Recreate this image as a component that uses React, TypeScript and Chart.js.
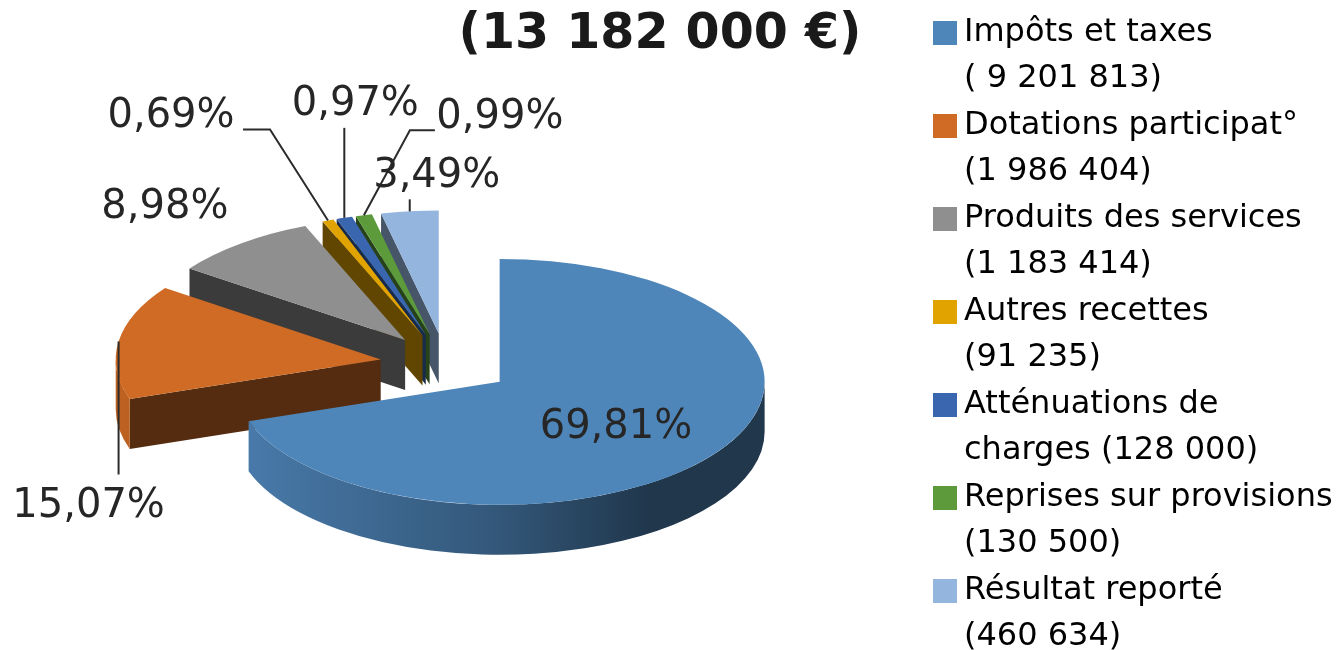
import React, { useEffect, useRef } from "react";
import { Chart, registerables } from "chart.js";

Chart.register(...registerables);

const categories = [
  ["Impôts et taxes", "( 9 201 813)"],
  ["Dotations participat°", "(1 986 404)"],
  ["Produits des services", "(1 183 414)"],
  ["Autres recettes", "(91 235)"],
  ["Atténuations de", "charges (128 000)"],
  ["Reprises sur provisions", "(130 500)"],
  ["Résultat reporté", "(460 634)"],
];
const amounts = [9201813, 1986404, 1183414, 91235, 128000, 130500, 460634];
const colors = ["#4F86BA", "#CF6B24", "#8F8F8F", "#E0A300", "#3A66B0", "#5C9A3C", "#94B6DE"];
const titleText = "(13 182 000 €)";

// Rendering of the tilted, exploded pie
const PIE = { cx: 446, cy: 364, radius: 265, tilt: 0.464, explode: 66, depth: 50 };
// Label placement relative to each slice's rim midpoint: label centre and leader polyline
const LABEL_LAYOUT = [
  { dx: -99, dy: -26, leader: [] },
  { dx: -30, dy: 165, leader: [[0, 133]] },
  { dx: -76, dy: -36, leader: [] },
  { dx: -157, dy: -104, leader: [[-58, -91], [-85, -91]] },
  { dx: 11, dy: -113, leader: [[0, -90]] },
  { dx: 136, dy: -98, leader: [[46, -85], [71, -85]] },
  { dx: 27, dy: -35, leader: [[0, -12]] },
];
const FACE_SHADE = [0.4, 0.41, 0.41, 0.43, 0.42, 0.42, 0.47];

function shade(hex: string, f: number) {
  const n = parseInt(hex.slice(1), 16);
  const c = [(n >> 16) & 255, (n >> 8) & 255, n & 255].map((v) => Math.round(v * f));
  return `rgb(${c[0]},${c[1]},${c[2]})`;
}

const pie3d = {
  id: "pie3d",
  afterLayout(chart: any) {
    const lg = chart.legend;
    const w = lg.right - lg.left;
    lg.left = 941;
    lg.right = 941 + w;
    lg.top = 16;
    // the swatches overhang the legend box, so it is drawn without its clip
    lg.draw = function () {
      this._draw();
    };
    chart.titleBlock.right = 1320;
  },
  beforeDatasetDraw(chart: any, args: any) {
    const ctx = chart.ctx;
    const meta = args.meta;
    const els = meta.data;
    const { radius: R, tilt: K, depth: D } = PIE;
    const total = amounts.reduce((a, b) => a + b, 0);
    const pos = els.map((el: any) => {
      const mid = (el.startAngle + el.endAngle) / 2;
      return {
        x: PIE.cx + PIE.explode * Math.cos(mid),
        y: PIE.cy + PIE.explode * K * Math.sin(mid),
        mid,
      };
    });
    // back-to-front: last slice first
    for (let i = els.length - 1; i >= 0; i--) {
      const el = els[i];
      const { x, y } = pos[i];
      const s = el.startAngle;
      const e = el.endAngle;
      const base = colors[i];
      const face = shade(base, FACE_SHADE[i]);
      const edge = (a: number) => {
        if ((a === s && Math.cos(a) < -1e-6) || (a === e && Math.cos(a) > 1e-6)) {
          const rx = x + R * Math.cos(a);
          const ry = y + R * K * Math.sin(a);
          ctx.beginPath();
          ctx.moveTo(x, y);
          ctx.lineTo(rx, ry);
          ctx.lineTo(rx, ry + D);
          ctx.lineTo(x, y + D);
          ctx.closePath();
          ctx.fillStyle = face;
          ctx.fill();
        }
      };
      edge(s);
      edge(e);
      // outer wall: only the front half of the rim
      const a0 = Math.max(s, 0);
      const a1 = Math.min(e, Math.PI);
      if (a1 > a0) {
        const g = ctx.createLinearGradient(x - R, 0, x + R, 0);
        g.addColorStop(0, shade(base, 0.92));
        g.addColorStop(0.5, shade(base, 0.65));
        g.addColorStop(0.78, shade(base, 0.41));
        g.addColorStop(1, shade(base, 0.41));
        ctx.beginPath();
        ctx.ellipse(x, y, R, R * K, 0, a0, a1, false);
        ctx.ellipse(x, y + D, R, R * K, 0, a1, a0, true);
        ctx.closePath();
        ctx.fillStyle = g;
        ctx.fill();
      }
      // top face, drawn by the library's own arc element
      ctx.save();
      ctx.translate(x, y);
      ctx.scale(1, K);
      ctx.translate(-el.x, -el.y);
      el.draw(ctx);
      ctx.restore();
    }
    // leader lines
    ctx.strokeStyle = "#2b2b2b";
    ctx.lineWidth = 2;
    const rim = pos.map((p: any) => ({
      x: p.x + R * Math.cos(p.mid),
      y: p.y + R * K * Math.sin(p.mid),
    }));
    LABEL_LAYOUT.forEach((l, i) => {
      if (!l.leader.length) return;
      ctx.beginPath();
      ctx.moveTo(rim[i].x, rim[i].y);
      l.leader.forEach((pt) => ctx.lineTo(rim[i].x + pt[0], rim[i].y + pt[1]));
      ctx.stroke();
    });
    // percentage labels
    ctx.font = "40px 'DejaVu Sans'";
    ctx.textAlign = "center";
    ctx.textBaseline = "middle";
    ctx.fillStyle = "#262626";
    LABEL_LAYOUT.forEach((l, i) => {
      const t = ((amounts[i] / total) * 100).toFixed(2).replace(".", ",") + "%";
      ctx.fillText(t, rim[i].x + l.dx, rim[i].y + l.dy);
    });
    return false;
  },
};

export default function App() {
  const ref = useRef<HTMLCanvasElement>(null);
  useEffect(() => {
    const chart = new Chart(ref.current as HTMLCanvasElement, {
      type: "pie",
      data: {
        labels: categories.map((c) => c[0]),
        datasets: [{ data: amounts, backgroundColor: colors, borderWidth: 0, radius: PIE.radius }],
      },
      options: {
        responsive: false,
        animation: false,
        layout: { padding: 0 },
        plugins: {
          title: {
            display: true,
            text: titleText,
            color: "#1a1a1a",
            padding: 0,
            font: { family: "'DejaVu Sans'", size: 49, weight: "bold", lineHeight: 1.43 },
          },
          tooltip: { enabled: false },
          legend: {
            display: true,
            position: "right",
            align: "start",
            labels: {
              boxWidth: 6,
              boxHeight: 6,
              padding: 1,
              color: "#2e2e2e",
              font: { family: "'DejaVu Sans'", size: 32, lineHeight: 1.4375 },
              generateLabels: () =>
                categories.map((c, i) => ({
                  text: c,
                  fillStyle: colors[i],
                  strokeStyle: colors[i],
                  lineWidth: 18,
                  lineJoin: "miter",
                  lineCap: "butt",
                  lineDash: [],
                  lineDashOffset: 0,
                  hidden: false,
                  index: i,
                })),
            },
          },
        },
      } as any,
      plugins: [pie3d],
    });
    return () => chart.destroy();
  }, []);
  return (
    <div style={{ position: "fixed", left: 0, top: 0, width: 1338, height: 650, overflow: "hidden", background: "#fff" }}>
      <canvas ref={ref} width={1338} height={760} style={{ display: "block", filter: "blur(0.6px)" }} />
    </div>
  );
}
